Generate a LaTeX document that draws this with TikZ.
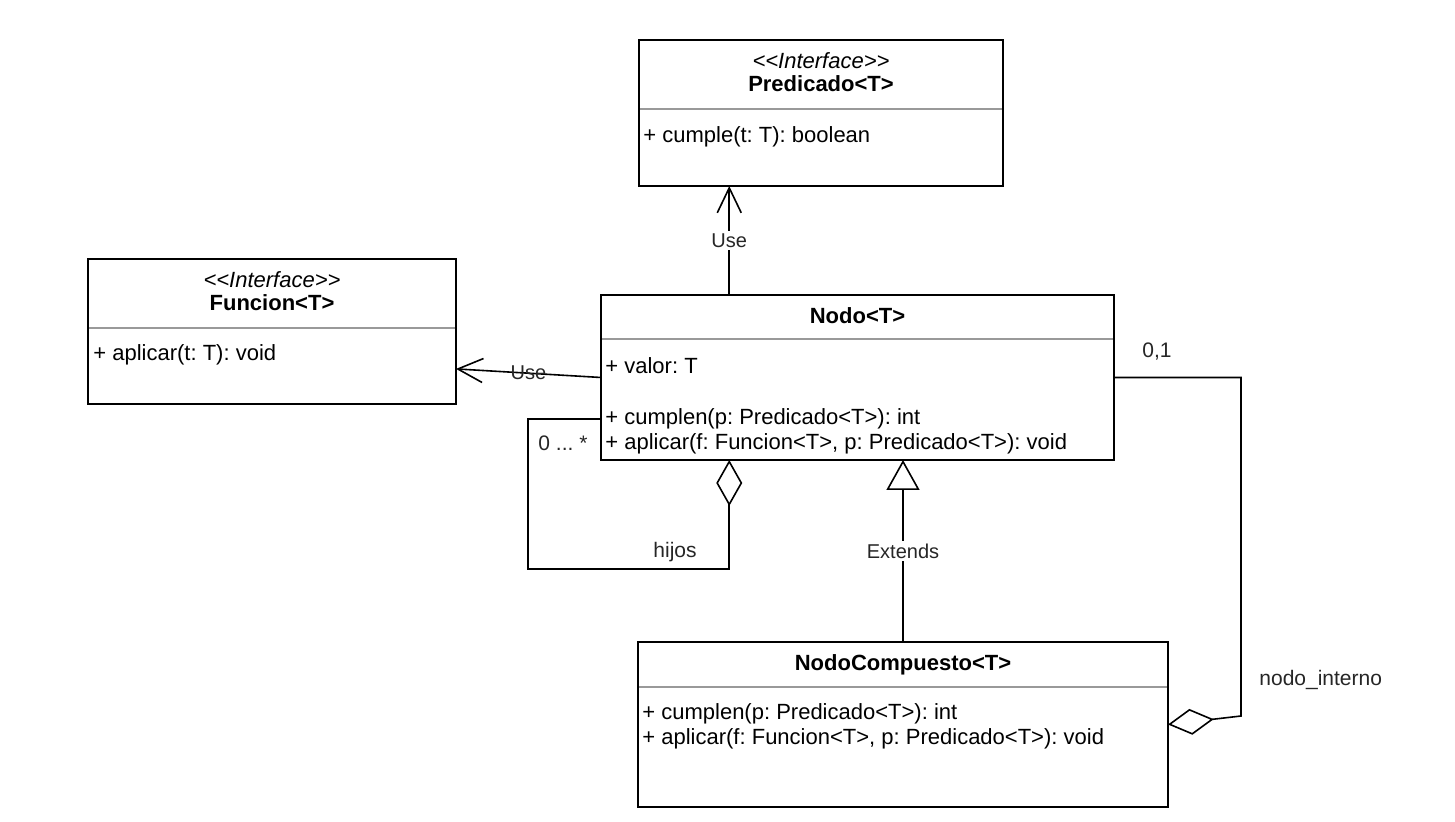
\documentclass[tikz,border=0pt]{standalone}
\usepackage{fontspec}
\setmainfont{Liberation Sans}
\usetikzlibrary{arrows.meta,calc}
\frenchspacing

\tikzset{
  classbox/.style={draw=black, line width=1pt, fill=white, inner sep=0pt, outer sep=0pt, anchor=north west},
  sepline/.style={draw=black!40, line width=0.6pt},
  member/.style={anchor=mid west, inner sep=0pt, yshift=-1pt, font=\fontsize{11}{13}\selectfont},
  ctitle/.style={anchor=mid, inner sep=0pt, yshift=-1pt, font=\fontsize{11}{13}\selectfont\bfseries},
  stereo/.style={anchor=mid, inner sep=0pt, yshift=-1pt, font=\fontsize{11}{13}\selectfont\itshape},
  conn/.style={draw=black, line width=0.8pt, line join=miter},
  elabel/.style={inner sep=1.5pt, font=\fontsize{10}{12}\selectfont, text=black!85},
  endlabel/.style={inner sep=0pt, font=\fontsize{10.5}{12}\selectfont, text=black!85},
  usearrow/.style={-{Straight Barb[length=12.5pt,width=12pt]}},
  aggr/.style={-{Diamond[open,length=23pt,width=13pt]}},
  inherit/.style={-{Triangle[open,length=15pt,width=16.5pt]}},
}

\begin{document}
\begin{tikzpicture}[x=0.5pt,y=-0.5pt]
  \fill[white] (0,0) rectangle (1455,822);
  \useasboundingbox (0,0) rectangle (1455,822);

  % ---- class boxes ----
  \node[classbox, minimum width=182pt, minimum height=73pt] (pred) at (639,40) {};
  \node[classbox, minimum width=184pt, minimum height=72.5pt] (func) at (88,259) {};
  \node[classbox, minimum width=256.5pt, minimum height=82.5pt] (nodo) at (601,295) {};
  \node[classbox, minimum width=265pt, minimum height=82.5pt] (comp) at (638,642) {};

  % ---- compartment separators ----
  \draw[sepline] ($(pred.north west)+(1,69)$) -- ($(pred.north east)+(-1,69)$);
  \draw[sepline] ($(func.north west)+(1,69)$) -- ($(func.north east)+(-1,69)$);
  \draw[sepline] ($(nodo.north west)+(1,44)$) -- ($(nodo.north east)+(-1,44)$);
  \draw[sepline] ($(comp.north west)+(1,45)$) -- ($(comp.north east)+(-1,45)$);

  % ---- Predicado<T> ----
  \node[stereo] (predst) at (821,61) {<\kern0pt<Interface>\kern0pt>};
  \node[ctitle] (predname) at (821,84) {Predicado<T>};
  \node[member] (predm1) at (643,135) {+ cumple(t: T): boolean};

  % ---- Funcion<T> ----
  \node[stereo] (funcst) at (272,280) {<\kern0pt<Interface>\kern0pt>};
  \node[ctitle] (funcname) at (272,303) {Funcion<T>};
  \node[member] (funcm1) at (93,353) {+ aplicar(t: T): void};

  % ---- Nodo<T> ----
  \node[ctitle] (nodoname) at (857.5,316) {Nodo<T>};
  \node[member] (nodoa1) at (605,366) {+ valor: T};
  \node[member] (nodom1) at (605,417) {+ cumplen(p: Predicado<T>): int};
  \node[member] (nodom2) at (605,442) {+ aplicar(f: Funcion<T>, p: Predicado<T>): void};

  % ---- NodoCompuesto<T> ----
  \node[ctitle] (compname) at (903,663) {NodoCompuesto<T>};
  \node[member] (compm1) at (642,712) {+ cumplen(p: Predicado<T>): int};
  \node[member] (compm2) at (642,737) {+ aplicar(f: Funcion<T>, p: Predicado<T>): void};

  % ---- dependencies (Use) ----
  \draw[conn, usearrow] ($(nodo.north west)!0.25!(nodo.north east)$) coordinate (nu)
     -- (nu |- pred.south) node[elabel, fill=white, pos=0.5] (use1) {Use};
  \draw[conn, usearrow] (nodo.west)
     -- ($(func.north east)!0.758!(func.south east)$) node[elabel, pos=0.5] (use2) {Use};

  % ---- self aggregation: hijos ----
  \draw[conn, aggr] ($(nodo.north west)!0.75!(nodo.south west)$)
     -| ++(-73,150) -| (nu |- nodo.south);
  \node[endlabel] (mult1) at (563,443) {0 ... *};
  \node[endlabel] (hijos) at (675,552) {hijos};

  % ---- generalisation ----
  \draw[conn, inherit] (comp.north) -- (comp.north |- nodo.south)
     node[elabel, fill=white, pos=0.5] (ext) {Extends};

  % ---- aggregation: nodo_interno ----
  \draw[conn, aggr] (nodo.east) -- ++(127,0) -- ++(0,338.5) -- (comp.east);
  \node[endlabel] (mult2) at (1157,352) {0,1};
  \node[endlabel, anchor=mid west] (nint) at (1259,680) {nodo\_interno};
\end{tikzpicture}
\end{document}
